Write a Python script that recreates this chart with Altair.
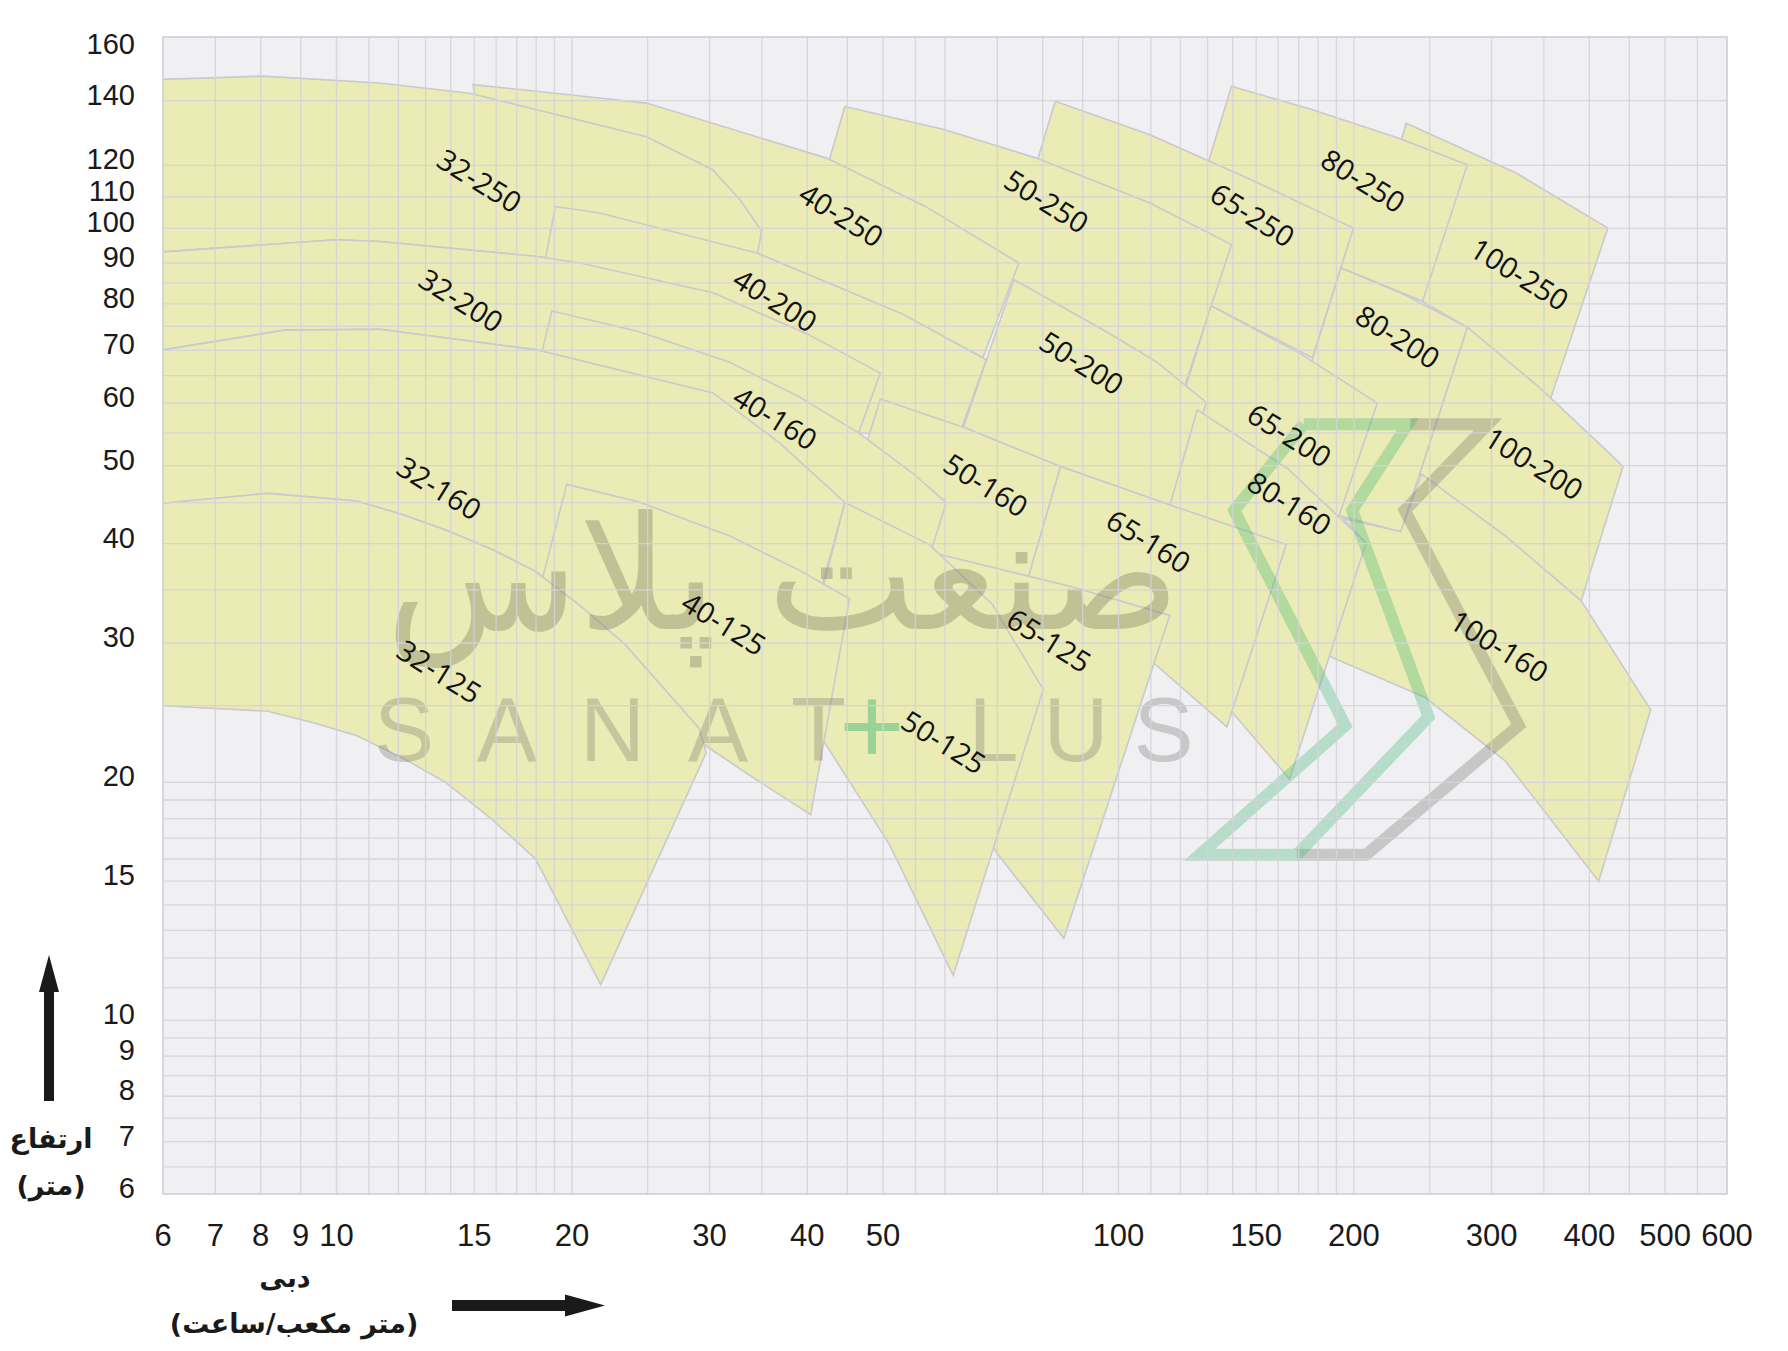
import altair as alt
import pandas as pd

# ---------------- axis values ----------------
X_LABELS = [6, 7, 8, 9, 10, 15, 20, 30, 40, 50, 100, 150, 200, 300, 400, 500, 600]
Y_LABELS = [6, 7, 8, 9, 10, 15, 20, 30, 40, 50, 60, 70, 80, 90, 100, 110, 120, 140, 160]
X_GRID = [6, 7, 8, 9, 10, 11, 12, 13, 14, 15, 16, 17, 18, 19, 20, 25, 30, 35, 40, 45, 50, 55, 60,
          70, 80, 90, 100, 110, 120, 130, 140, 150, 160, 170, 180, 190, 200,
          250, 300, 350, 400, 450, 500, 550, 600]
Y_GRID = [6, 6.5, 7, 7.5, 8, 8.5, 9, 9.5, 10, 11, 12, 13, 14, 15, 16, 17, 18, 19, 20,
          25, 30, 35, 40, 45, 50, 55, 60, 65, 70, 75, 80, 85, 90, 100, 110, 120, 140, 160]

# ---------------- pump tiles: flow Q (m3/h) and head H (m) ----------------
# (top curve Q, top curve H, bottom curve Q, bottom curve H), curves listed left -> right
TILES = {
    # row 250
    "100-250": ([233.3, 322.5, 422.4], [132.7, 117.5, 100.1],
                [208.6, 245, 279.4, 354.9], [93.5, 80.5, 74.8, 59.8]),
    "80-250": ([139.5, 177.1, 227.8, 279.3], [144.3, 137.0, 128.1, 120.2],
               [124.0, 159.5, 192.5, 244.8], [103.7, 95.1, 88.8, 80.6]),
    "65-250": ([83.0, 109.7, 148.0, 199.7], [139.8, 129.1, 115.3, 100.1],
               [74.2, 106.6, 131.3, 177.0], [100.2, 87.4, 79.6, 68.5]),
    "50-250": ([44.68, 59.83, 78.5, 109.7, 139.5], [138.1, 130.7, 122.1, 108.0, 95.2],
               [40.27, 54.47, 73.5, 96.4, 120.7], [100.2, 89.7, 85.1, 73.4, 61.8]),
    "40-250": ([14.95, 21.71, 24.91, 42.34, 56.62, 74.58], [144.8, 140.8, 139.2, 122.1, 106.9, 90.0],
               [16.0, 21.71, 34.46, 52.96, 67.07], [100.2, 104.8, 92.8, 77.7, 68.5]),
    "32-250": ([6, 8.04, 11.36, 14.8, 24.91, 30.27, 32.81, 34.97],
               [146.4, 147.4, 145.3, 142.2, 128.5, 118.6, 109.1, 99.2],
               [6, 9.99, 11.36, 18.05, 20.48, 30.3, 33.48],
               [93.1, 96.6, 96.1, 91.8, 90.0, 82.6, 78.4]),
    # row 200
    "100-200": ([279.4, 345.3, 419.6, 441.7], [74.8, 62.8, 52.4, 49.9],
                [242.7, 312.2, 390.6], [48.8, 40.9, 33.9]),
    "80-200": ([192.5, 230.8, 279.3], [88.7, 82.4, 74.8],
               [155.3, 188.7, 229.6], [45.1, 43.5, 41.4]),
    "65-200": ([131.3, 170.6, 214.3], [79.6, 69.4, 60.0],
               [112.1, 144.2, 185.5], [48.2, 44.5, 39.6]),
    "50-200": ([73.51, 96.41, 112.1, 129.5], [85.8, 73.9, 67.6, 60.1],
               [63.35, 84.29, 117.9], [55.9, 49.9, 44.5]),
    "40-200": ([19.05, 21.71, 34.46, 52.96, 67.75], [106.9, 104.8, 92.8, 77.7, 68.1],
               [17.99, 18.86, 24.33, 31.84, 38.94, 46.52, 62.3],
               [78.9, 78.4, 73.9, 67.6, 61.2, 55.0, 54.1]),
    "32-200": ([6, 9.99, 11.36, 18.05, 20.48, 30.3, 40.0, 49.59],
               [93.1, 96.6, 96.1, 91.8, 90.0, 82.6, 73.4, 65.5],
               [6, 8.59, 11.36, 18.05, 30.3, 36.9, 46.52],
               [70.1, 74.2, 74.4, 70.1, 61.8, 53.4, 55.0]),
    # row 160
    "100-160": ([244.1, 312.2, 390.6, 479.2], [48.8, 40.9, 33.9, 24.7],
                [229.6, 193.8, 207.3, 185.5, 246.8, 312.2, 411.2],
                [41.4, 43.0, 40.1, 28.9, 25.6, 21.3, 15.0]),
    "80-160": ([126.1, 164.9, 207.3], [58.8, 49.5, 40.1],
               [110.2, 126.1, 140.4, 165.5], [37.1, 27.5, 24.4, 20.2]),
    "65-160": ([84.29, 117.9, 163.9], [49.9, 44.5, 39.9],
               [74.93, 93.22, 111.0, 137.6], [33.6, 31.2, 28.3, 23.5]),
    "50-160": ([49.59, 63.35, 84.29], [60.7, 55.9, 49.9],
               [43.79, 54.47, 74.93], [40.9, 37.1, 33.6]),
    "40-160": ([18.86, 24.33, 31.84, 38.94, 46.52, 54.47, 60.23], [78.4, 73.9, 67.6, 61.2, 55.0, 49.0, 45.0],
               [17.99, 27.83, 38.94, 55.39], [64.9, 51.5, 42.4, 34.7]),
    "32-160": ([6, 8.59, 11.36, 18.05, 30.3, 36.9, 44.68], [70.1, 74.2, 74.4, 70.1, 61.8, 53.4, 45.0],
               [6, 8.17, 10.62, 12.12, 13.79, 15.77, 17.97, 20.51, 23.37, 29.1, 38.94],
               [44.9, 46.2, 45.2, 43.5, 41.6, 39.4, 36.9, 33.4, 29.9, 23.4, 27.5]),
    # row 125
    "65-125": ([58.26, 87.15, 116.3], [38.9, 35.3, 32.5],
               [52.66, 70.18, 85.13], [25.0, 16.2, 12.7]),
    "50-125": ([44.68, 57.29, 68.9, 80.14], [45.0, 39.9, 33.6, 26.2],
               [38.94, 41.92, 50.94, 61.47], [26.6, 22.6, 16.7, 11.4]),
    "40-125": ([19.70, 24.33, 31.84, 38.94, 45.29], [47.4, 45.1, 40.9, 37.1, 34.1],
               [17.99, 23.53, 29.77, 34.05, 40.40], [33.6, 27.5, 22.2, 20.3, 18.2]),
    "32-125": ([6, 8.17, 10.62, 12.12, 13.79, 15.77, 17.97, 20.51, 23.37, 29.1, 29.7],
               [44.9, 46.2, 45.2, 43.5, 41.6, 39.4, 36.9, 33.4, 29.9, 23.4, 21.8],
               [6, 8.17, 9.32, 10.62, 12.12, 13.79, 15.77, 17.97, 21.77],
               [25.0, 24.6, 23.8, 22.9, 21.5, 20.0, 18.0, 16.0, 11.1]),
}
DRAW_ORDER = ["100-250", "80-250", "65-250", "50-250", "40-250", "32-250",
              "100-200", "80-200", "65-200", "50-200", "40-200", "32-200",
              "100-160", "80-160", "65-160", "50-160", "40-160", "32-160",
              "65-125", "50-125", "40-125", "32-125"]

# ---------------- tile labels ----------------
LABEL_TEXT = ["32-250", "32-200", "32-160", "32-125", "40-250", "40-200", "40-160", "40-125",
              "50-250", "50-200", "50-160", "50-125", "65-250", "65-200", "65-160", "65-125",
              "80-250", "80-200", "80-160", "100-250", "100-200", "100-160"]
LABEL_Q = [15.2, 14.4, 13.5, 13.5, 44.1, 36.3, 36.3, 31.2,
           80.7, 89.5, 67.5, 59.6, 148, 165, 109, 81.3,
           205, 227, 165, 325, 339, 306]
LABEL_H = [114.6, 80.5, 46.7, 27.5, 103.7, 80.5, 57.2, 31.6,
           108.1, 67.2, 47.1, 22.4, 103.7, 54.4, 40.1, 30.1,
           114.6, 72.5, 44.7, 86.8, 50.1, 29.6]

# ---------------- watermark logo outline (Q, H) ----------------
LOGO_GREEN_Q = [172.5, 234.3, 199.0, 249.2, 169.1, 127.0, 195.0, 140.6, 172.5]
LOGO_GREEN_H = [56.4, 56.4, 44.0, 24.2, 16.2, 16.2, 23.6, 44.0, 56.4]
LOGO_GRAY_Q = [236.2, 296.9, 232.3, 325.0, 207.3, 169.1]
LOGO_GRAY_H = [56.4, 56.4, 44.0, 23.6, 16.2, 16.2]

# ---------------- styles ----------------
FILL = "#EBEBB5"
EDGE = "#C9C9CE"
GRID = "#D3D3D9"
BG = "#F0F0F2"
NUM_FONT = "Liberation Sans Narrow, Liberation Sans, sans-serif"

rows = []
for name, (tq, th, bq, bh) in TILES.items():
    k = 0
    for q, h in zip(tq, th):
        rows.append({"tile": name, "ord": k, "Q": q, "H": h}); k += 1
    for q, h in zip(bq[::-1], bh[::-1]):
        rows.append({"tile": name, "ord": k, "Q": q, "H": h}); k += 1
tiles_df = pd.DataFrame(rows)

xs = alt.Scale(type="log", domain=[6, 600], nice=False)
ys = alt.Scale(type="log", nice=False,
               domain=[6, 10, 20, 30, 40, 50, 60, 70, 90, 100, 110, 120, 140, 160],
               range=[1157, 983.4, 745.4, 606, 506.7, 428.7, 366, 313.4, 226, 191.4, 160, 128.4, 63.7, 0])

layers = []
for name in DRAW_ORDER:
    layers.append(
        alt.Chart(tiles_df).transform_filter(alt.datum.tile == name)
        .mark_line(interpolate="linear-closed", fill=FILL, stroke=EDGE, strokeWidth=1.6, clip=True)
        .encode(x=alt.X("Q:Q", scale=xs, axis=None),
                y=alt.Y("H:Q", scale=ys, axis=None),
                order="ord:Q")
    )

one = pd.DataFrame({"a": [0]})

def txt(s, x, y, size, weight="bold", color="#1a1a1a", font="DejaVu Sans", opacity=1.0, align="center"):
    return alt.Chart(one).mark_text(text=s, fontSize=size, fontWeight=weight, color=color, align=align,
                                    font=font, opacity=opacity).encode(x=alt.value(x), y=alt.value(y))

NB = "\u00a0"
SP1 = NB + "\u2009"
wm1 = txt("صنعت پلاس", 620, 545, 158, weight="normal", color="#6f6f5a", opacity=0.33)
wm2a = txt(SP1.join("SANAT"), 447, 697, 90, weight="normal", color="#6f6f6a",
           font="Liberation Sans", opacity=0.3)
wm2b = txt(NB.join("LUS"), 918, 697, 90, weight="normal", color="#6f6f6a",
           font="Liberation Sans", opacity=0.3)
wm2c = txt("+", 709, 693, 112, weight="normal", color="#2fb36c", font="Liberation Sans", opacity=0.42)

logo_df = pd.DataFrame({
    "part": ["gray"] * len(LOGO_GRAY_Q) + ["green"] * len(LOGO_GREEN_Q),
    "i": list(range(len(LOGO_GRAY_Q))) + list(range(len(LOGO_GREEN_Q))),
    "Q": LOGO_GRAY_Q + LOGO_GREEN_Q,
    "H": LOGO_GRAY_H + LOGO_GREEN_H,
})
logo_gray = alt.Chart(logo_df).transform_filter(alt.datum.part == "gray").mark_line(
    color="#5f5f5f", strokeWidth=12, opacity=0.28, strokeJoin="miter").encode(
    x=alt.X("Q:Q", scale=xs, axis=None), y=alt.Y("H:Q", scale=ys, axis=None), order="i:Q")
logo_green = alt.Chart(logo_df).transform_filter(alt.datum.part == "green").mark_line(
    color="#2fb36c", strokeWidth=12, opacity=0.3, strokeJoin="miter").encode(
    x=alt.X("Q:Q", scale=xs, axis=None), y=alt.Y("H:Q", scale=ys, axis=None), order="i:Q")

grid_y = alt.Chart(pd.DataFrame({"H": Y_GRID})).mark_rule(color=GRID, strokeWidth=1.3, opacity=0.9).encode(
    y=alt.Y("H:Q", scale=ys, axis=None))
grid_x = alt.Chart(pd.DataFrame({"Q": X_GRID})).mark_rule(color=GRID, strokeWidth=1.3, opacity=0.9).encode(
    x=alt.X("Q:Q", scale=xs, axis=None))

ylab_df = pd.DataFrame({"H": Y_LABELS})
ylab = alt.Chart(ylab_df).transform_filter(alt.datum.H < 160).mark_text(
    align="right", baseline="middle", dy=-5, fontSize=29, font=NUM_FONT, color="#1a1a1a").encode(
    y=alt.Y("H:Q", scale=ys, axis=None), x=alt.value(-28), text=alt.Text("H:Q", format="d"))
ylab_top = alt.Chart(ylab_df).transform_filter(alt.datum.H >= 160).mark_text(
    align="right", baseline="middle", dy=8, fontSize=29, font=NUM_FONT, color="#1a1a1a").encode(
    y=alt.Y("H:Q", scale=ys, axis=None), x=alt.value(-28), text=alt.Text("H:Q", format="d"))
xlab = alt.Chart(pd.DataFrame({"Q": X_LABELS})).mark_text(
    align="center", baseline="middle", fontSize=31, font=NUM_FONT, color="#1a1a1a").encode(
    x=alt.X("Q:Q", scale=xs, axis=None), y=alt.value(1200), text=alt.Text("Q:Q", format="d"))

labels_df = pd.DataFrame({"t": LABEL_TEXT, "Q": LABEL_Q, "H": LABEL_H})
labels = alt.Chart(labels_df).mark_text(angle=32, fontSize=29, font="Open Sans", color="#111111").encode(
    x=alt.X("Q:Q", scale=xs, axis=None), y=alt.Y("H:Q", scale=ys, axis=None), text="t:N")

t1 = txt("ارتفاع", -112, 1103, 27)
t2 = txt("(متر)", -112, 1150, 27)
t3 = txt("دبی", 122, 1242, 27)
t4 = txt("(متر مکعب/ساعت)", 131, 1288, 27)

ARROW = "#1a1a1a"
shaft_v = alt.Chart(one).mark_rule(color=ARROW, strokeWidth=10).encode(
    x=alt.value(-114), y=alt.value(952), y2=alt.value(1064))
head_v = alt.Chart(one).mark_point(shape="M-0.54,1L0,-1L0.54,1Z", filled=True, color=ARROW, opacity=1,
                                   size=1369, strokeWidth=0).encode(x=alt.value(-114), y=alt.value(936.5))
shaft_h = alt.Chart(one).mark_rule(color=ARROW, strokeWidth=11).encode(
    x=alt.value(289), x2=alt.value(405), y=alt.value(1268.5))
head_h = alt.Chart(one).mark_point(shape="M-1,-0.55L1,0L-1,0.55Z", filled=True, color=ARROW, opacity=1,
                                   size=1600, strokeWidth=0).encode(x=alt.value(422), y=alt.value(1268.5))

chart = alt.layer(*layers, wm1, wm2a, wm2b, wm2c, logo_gray, logo_green, grid_y, grid_x, labels,
                  ylab, ylab_top, xlab, t1, t2, t3, t4, shaft_v, head_v, shaft_h, head_h).properties(
    width=1564, height=1157,
    autosize=alt.AutoSizeParams(type="none"),
    padding={"left": 163, "top": 37, "right": 61, "bottom": 157},
    background="white",
).configure_view(fill=BG, stroke="#D2D2D8", strokeWidth=1.5)

chart.save("out.html", embed_options={"renderer": "svg", "actions": False})
